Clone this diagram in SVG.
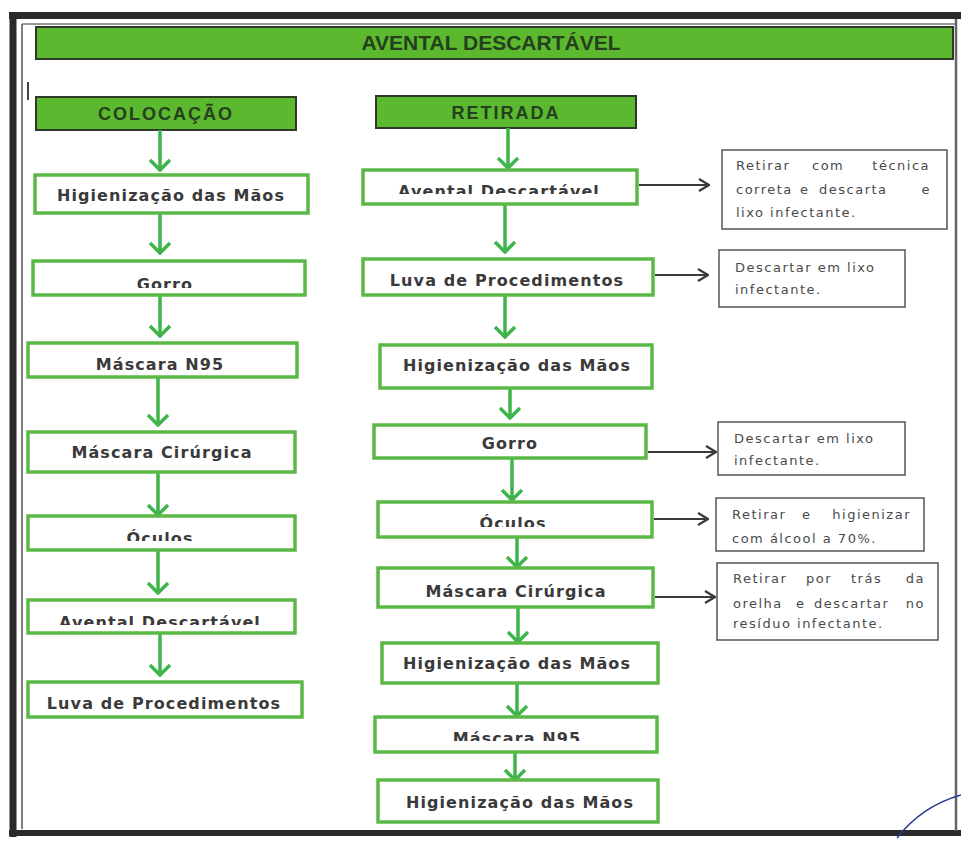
<svg xmlns="http://www.w3.org/2000/svg" width="961" height="841" viewBox="0 0 961 841">
<style>
.hdr{fill:#5cb82f;stroke:#2e3a28;stroke-width:2}
.htxt{font-family:"Liberation Sans",Arial,sans-serif;font-weight:bold;fill:#24401c;text-anchor:middle}
.node{fill:#fff;stroke:#5cb846;stroke-width:3.5}
.ntxt{font-family:"DejaVu Sans",Verdana,sans-serif;font-weight:bold;font-size:16px;letter-spacing:1.1px;fill:#3a3a3a;text-anchor:middle}
.note{fill:#fff;stroke:#555;stroke-width:1.5}
.ttxt{font-family:"DejaVu Sans",Verdana,sans-serif;font-size:13px;letter-spacing:1.5px;fill:#4a4a4a}
.garr{stroke:#3db54a;stroke-width:3.5;fill:none;marker-end:url(#gh)}
.karr{stroke:#3a3a3a;stroke-width:2;fill:none;marker-end:url(#kh)}
</style>
<defs>
<marker id="gh" viewBox="0 0 14 24" refX="12" refY="12" markerWidth="14" markerHeight="24" markerUnits="userSpaceOnUse" orient="auto">
<path d="M2,2 L12,12 L2,22" fill="none" stroke="#3db54a" stroke-width="3.5"/>
</marker>
<marker id="kh" viewBox="0 0 12 14" refX="11" refY="7" markerWidth="12" markerHeight="14" markerUnits="userSpaceOnUse" orient="auto">
<path d="M1,1 L11,7 L1,13" fill="none" stroke="#3a3a3a" stroke-width="2.2"/>
</marker>
<clipPath id="cL2"><rect x="0" y="0" width="961" height="288"/></clipPath>
<clipPath id="cL5"><rect x="0" y="0" width="961" height="541"/></clipPath>
<clipPath id="cL6"><rect x="0" y="0" width="961" height="625"/></clipPath>
<clipPath id="cR1"><rect x="0" y="0" width="961" height="194"/></clipPath>
<clipPath id="cR5"><rect x="0" y="0" width="961" height="527"/></clipPath>
<clipPath id="cR8"><rect x="0" y="0" width="961" height="741"/></clipPath>
</defs>
<rect width="961" height="841" fill="#fff"/>
<g id="frame">
<line x1="9" y1="15.5" x2="961" y2="15.5" stroke="#2a2a2a" stroke-width="7"/>
<line x1="13" y1="12" x2="13" y2="837" stroke="#2a2a2a" stroke-width="7"/>
<line x1="9" y1="833" x2="961" y2="833" stroke="#2a2a2a" stroke-width="6"/>
<line x1="956" y1="19" x2="956" y2="831" stroke="#666" stroke-width="2.5"/>
<line x1="22" y1="24" x2="955" y2="24" stroke="#777" stroke-width="1.5"/>
<line x1="22" y1="24" x2="22" y2="829" stroke="#555" stroke-width="1.5"/>
<line x1="28" y1="82" x2="28" y2="100" stroke="#444" stroke-width="2"/>
<path d="M897 838 Q922 806 961 795" fill="none" stroke="#2b3a8c" stroke-width="1.5"/>
</g>
<g id="title">
<rect class="hdr" x="36" y="27" width="917" height="32"/>
<text class="htxt" x="491" y="50" font-size="21">AVENTAL DESCARTÁVEL</text>
</g>
<g id="colocacao">
<rect class="hdr" x="36" y="97" width="260" height="33"/>
<text class="htxt" x="166" y="120" font-size="18" letter-spacing="2">COLOCAÇÃO</text>
</g>
<g id="retirada">
<rect class="hdr" x="376" y="96" width="260" height="32"/>
<text class="htxt" x="506" y="119" font-size="18" letter-spacing="2">RETIRADA</text>
</g>
<g id="connectors">
<line class="garr" x1="160" y1="130" x2="160" y2="170"/>
<line class="garr" x1="160" y1="213" x2="160" y2="253"/>
<line class="garr" x1="160" y1="295" x2="160" y2="336"/>
<line class="garr" x1="158" y1="377" x2="158" y2="425"/>
<line class="garr" x1="158" y1="472" x2="158" y2="515"/>
<line class="garr" x1="158" y1="550" x2="158" y2="593"/>
<line class="garr" x1="160" y1="633" x2="160" y2="675"/>
<line class="garr" x1="508" y1="128" x2="508" y2="168"/>
<line class="garr" x1="505" y1="204" x2="505" y2="252"/>
<line class="garr" x1="505" y1="295" x2="505" y2="337"/>
<line class="garr" x1="510" y1="388" x2="510" y2="418"/>
<line class="garr" x1="512" y1="458" x2="512" y2="500"/>
<line class="garr" x1="517" y1="537" x2="517" y2="567"/>
<line class="garr" x1="518" y1="607" x2="518" y2="642"/>
<line class="garr" x1="517" y1="683" x2="517" y2="716"/>
<line class="garr" x1="515" y1="752" x2="515" y2="780"/>
<line class="karr" x1="639" y1="185" x2="709" y2="185"/>
<line class="karr" x1="655" y1="275" x2="708" y2="275"/>
<line class="karr" x1="648" y1="452" x2="716" y2="452"/>
<line class="karr" x1="654" y1="519" x2="708" y2="519"/>
<line class="karr" x1="655" y1="597" x2="715" y2="597"/>
</g>
<g id="L1"><rect class="node" x="35" y="175" width="273" height="38"/><text class="ntxt" x="171" y="201">Higienização das Mãos</text></g>
<g id="L2"><rect class="node" x="33" y="261" width="272" height="34"/><text class="ntxt" x="165" y="290" clip-path="url(#cL2)">Gorro</text></g>
<g id="L3"><rect class="node" x="28" y="343" width="269" height="34"/><text class="ntxt" x="160" y="370">Máscara N95</text></g>
<g id="L4"><rect class="node" x="28" y="432" width="267" height="40"/><text class="ntxt" x="162" y="458">Máscara Cirúrgica</text></g>
<g id="L5"><rect class="node" x="28" y="516" width="267" height="34"/><text class="ntxt" x="160" y="544" clip-path="url(#cL5)">Óculos</text></g>
<g id="L6"><rect class="node" x="28" y="600" width="267" height="33"/><text class="ntxt" x="160" y="628" clip-path="url(#cL6)">Avental Descartável</text></g>
<g id="L7"><rect class="node" x="28" y="682" width="274" height="35"/><text class="ntxt" x="164" y="709">Luva de Procedimentos</text></g>
<g id="R1"><rect class="node" x="363" y="170" width="274" height="34"/><text class="ntxt" x="499" y="197" clip-path="url(#cR1)">Avental Descartável</text></g>
<g id="R2"><rect class="node" x="363" y="259" width="290" height="36"/><text class="ntxt" x="507" y="286">Luva de Procedimentos</text></g>
<g id="R3"><rect class="node" x="380" y="345" width="272" height="43"/><text class="ntxt" x="517" y="371">Higienização das Mãos</text></g>
<g id="R4"><rect class="node" x="374" y="425" width="272" height="33"/><text class="ntxt" x="510" y="449">Gorro</text></g>
<g id="R5"><rect class="node" x="378" y="502" width="274" height="35"/><text class="ntxt" x="513" y="529" clip-path="url(#cR5)">Óculos</text></g>
<g id="R6"><rect class="node" x="378" y="568" width="275" height="39"/><text class="ntxt" x="516" y="597">Máscara Cirúrgica</text></g>
<g id="R7"><rect class="node" x="382" y="643" width="276" height="40"/><text class="ntxt" x="517" y="669">Higienização das Mãos</text></g>
<g id="R8"><rect class="node" x="375" y="717" width="282" height="35"/><text class="ntxt" x="517" y="744" clip-path="url(#cR8)">Máscara N95</text></g>
<g id="R9"><rect class="node" x="378" y="780" width="280" height="42"/><text class="ntxt" x="520" y="808">Higienização das Mãos</text></g>
<g id="N1"><rect class="note" x="722" y="150" width="225" height="79"/>
<text class="ttxt" y="170"><tspan x="736">Retirar</tspan><tspan x="812">com</tspan><tspan x="930" text-anchor="end">técnica</tspan></text>
<text class="ttxt" y="194"><tspan x="736">correta</tspan><tspan x="800">e</tspan><tspan x="819">descarta</tspan><tspan x="931" text-anchor="end">e</tspan></text>
<text class="ttxt" x="736" y="217">lixo infectante.</text></g>
<g id="N2"><rect class="note" x="719" y="250" width="186" height="57"/>
<text class="ttxt" x="735" y="272">Descartar em lixo</text>
<text class="ttxt" x="735" y="294">infectante.</text></g>
<g id="N3"><rect class="note" x="718" y="422" width="187" height="53"/>
<text class="ttxt" x="734" y="443">Descartar em lixo</text>
<text class="ttxt" x="734" y="465">infectante.</text></g>
<g id="N4"><rect class="note" x="716" y="498" width="208" height="53"/>
<text class="ttxt" y="519"><tspan x="732">Retirar</tspan><tspan x="802">e</tspan><tspan x="911" text-anchor="end">higienizar</tspan></text>
<text class="ttxt" x="732" y="543">com álcool a 70%.</text></g>
<g id="N5"><rect class="note" x="717" y="563" width="221" height="77"/>
<text class="ttxt" y="583"><tspan x="733">Retirar</tspan><tspan x="806">por</tspan><tspan x="851">trás</tspan><tspan x="925" text-anchor="end">da</tspan></text>
<text class="ttxt" y="608"><tspan x="733">orelha</tspan><tspan x="796">e</tspan><tspan x="814">descartar</tspan><tspan x="925" text-anchor="end">no</tspan></text>
<text class="ttxt" x="733" y="628">resíduo infectante.</text></g>
</svg>
